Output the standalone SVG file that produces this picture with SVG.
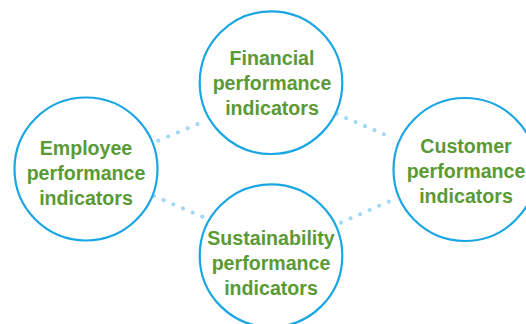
<svg xmlns="http://www.w3.org/2000/svg" width="526" height="324" viewBox="0 0 526 324">
<style>
.node circle{fill:#ffffff;stroke:#1aa6e3;stroke-width:2.2}
.node text{font-family:"Liberation Sans",Arial,sans-serif;font-weight:bold;font-size:19.6px;fill:#5a9a35;text-anchor:middle}
.conn path{fill:none;stroke:#a0d8f5;stroke-width:4.2;stroke-linecap:round;stroke-dasharray:0 10}
</style>
<rect width="526" height="324" fill="#ffffff"/>
<g id="connectors" class="conn">
<path d="M158.3,140.7 L207.3,120" pathLength="50"/>
<path d="M336.7,114 L393.3,138.3" pathLength="60"/>
<path d="M154,196 L202.3,216.7" pathLength="50"/>
<path d="M341,222.7 L398.3,197.3" pathLength="60"/>
</g>
<g id="financial" class="node">
<circle cx="271" cy="82.7" r="71.3"/>
<text x="272" y="64.5">Financial</text>
<text x="272" y="90">performance</text>
<text x="272" y="115">indicators</text>
</g>
<g id="employee" class="node">
<circle cx="86" cy="169" r="71.5"/>
<text x="86" y="155">Employee</text>
<text x="86" y="180">performance</text>
<text x="86" y="205">indicators</text>
</g>
<g id="customer" class="node">
<circle cx="465" cy="169.5" r="71.5"/>
<text x="466" y="152.5">Customer</text>
<text x="466" y="178">performance</text>
<text x="466" y="203.3">indicators</text>
</g>
<g id="sustainability" class="node">
<circle cx="271" cy="255.7" r="71.3"/>
<text x="271" y="245">Sustainability</text>
<text x="271" y="270.3">performance</text>
<text x="271" y="295.3">indicators</text>
</g>
</svg>
